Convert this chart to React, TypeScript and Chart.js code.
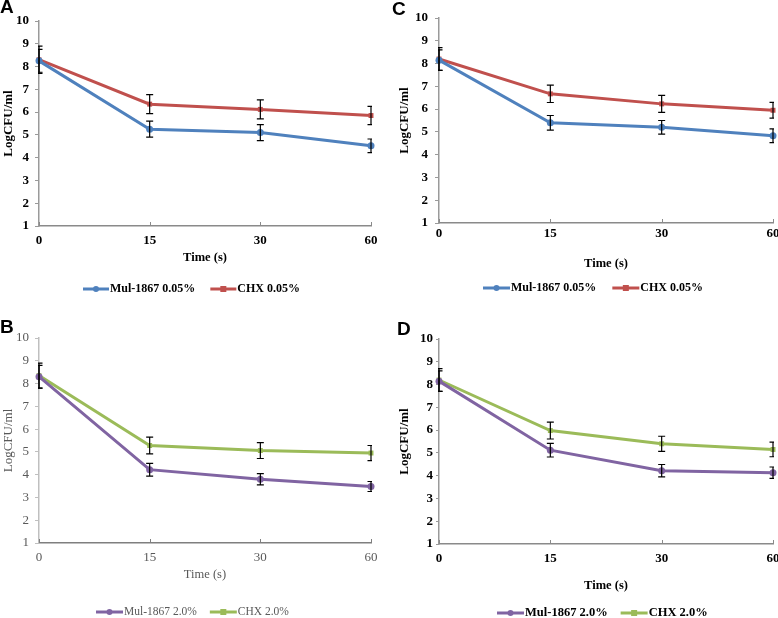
import React, { useEffect, useRef } from 'react';
import { Chart, registerables } from 'chart.js';

Chart.register(...registerables);

// ---------- data ----------
const timeLabels = ['0', '15', '30', '60'];
const yMin = 1;
const yMax = 10;

// Panel A (0.05%)
const mulA = [8.25, 5.25, 5.1, 4.52];
const mulAErr = [0.5, 0.35, 0.35, 0.3];
const chxA = [8.3, 6.35, 6.12, 5.85];
const chxAErr = [0.6, 0.42, 0.42, 0.4];

// Panel C (0.05%)
const mulC = [8.15, 5.4, 5.2, 4.83];
const mulCErr = [0.45, 0.32, 0.3, 0.3];
const chxC = [8.2, 6.67, 6.23, 5.95];
const chxCErr = [0.5, 0.38, 0.37, 0.35];

// Panel B (2.0%)
const mulB = [8.3, 4.22, 3.8, 3.48];
const mulBErr = [0.5, 0.28, 0.25, 0.22];
const chxB = [8.35, 5.28, 5.06, 4.95];
const chxBErr = [0.55, 0.37, 0.35, 0.33];

// Panel D (2.0%)
const mulD = [8.15, 5.12, 4.22, 4.13];
const mulDErr = [0.45, 0.3, 0.27, 0.25];
const chxD = [8.2, 5.98, 5.4, 5.15];
const chxDErr = [0.5, 0.37, 0.33, 0.32];

const seriesNames005 = ['Mul-1867 0.05%', 'CHX 0.05%'];
const seriesNames20 = ['Mul-1867 2.0%', 'CHX 2.0%'];
const yTitle = 'LogCFU/ml';
const xTitle = 'Time (s)';

// ---------- styles ----------
const SERIF = "'Liberation Serif', 'Times New Roman', serif";
const BLUE = '#4F81BD';
const RED = '#C0504D';
const PURPLE = '#8064A2';
const GREEN = '#9BBB59';

type PanelCfg = {
  letter: string;
  letterLeft: number;
  letterTop: number;
  left: number;
  top: number;
  W: number;
  H: number;
  area: { l: number; t: number; r: number; b: number };
  weight: 'bold' | 'normal';
  textColor: string;
  axisColor: string;
  yAxisColor: string;
  xTickPad: number;
  yTickLen: number;
  yTickPad: number;
  yTitlePad: number;
  xTitlePad: number;
  legendY: number;
  legendX: number;
  legendLine: number;
  legendGap: number;
  legendFont: number;
  names: string[];
  colors: string[];
  mul: number[];
  mulErr: number[];
  chx: number[];
  chxErr: number[];
};

const panels: PanelCfg[] = [
  {
    letter: 'A', letterLeft: 0, letterTop: -3,
    left: 0, top: 0, W: 389, H: 309,
    area: { l: 39, t: 21, r: 371, b: 226 },
    weight: 'bold', textColor: '#000', axisColor: '#8a8a8a', yAxisColor: '#9a9a9a',
    xTickPad: 7, yTickLen: 4, yTickPad: 6, yTitlePad: 1, xTitlePad: 44,
    legendY: 289, legendX: 83, legendLine: 26, legendGap: 15, legendFont: 12,
    names: seriesNames005, colors: [BLUE, RED],
    mul: mulA, mulErr: mulAErr, chx: chxA, chxErr: chxAErr,
  },
  {
    letter: 'C', letterLeft: 392, letterTop: -1,
    left: 389, top: 0, W: 389, H: 309,
    area: { l: 50, t: 18, r: 384, b: 223 },
    weight: 'bold', textColor: '#000', axisColor: '#8a8a8a', yAxisColor: '#9a9a9a',
    xTickPad: 3, yTickLen: 4, yTickPad: 7, yTitlePad: 8, xTitlePad: 38,
    legendY: 288, legendX: 94, legendLine: 27, legendGap: 16, legendFont: 12,
    names: seriesNames005, colors: [BLUE, RED],
    mul: mulC, mulErr: mulCErr, chx: chxC, chxErr: chxCErr,
  },
  {
    letter: 'B', letterLeft: 0, letterTop: 317,
    left: 0, top: 309, W: 389, H: 309,
    area: { l: 39, t: 29, r: 371, b: 234 },
    weight: 'normal', textColor: '#595959', axisColor: '#7f7f7f', yAxisColor: '#bfbfbf',
    xTickPad: 7, yTickLen: 4, yTickPad: 6, yTitlePad: 1, xTitlePad: 36,
    legendY: 303, legendX: 96, legendLine: 27, legendGap: 13, legendFont: 11.5,
    names: seriesNames20, colors: [PURPLE, GREEN],
    mul: mulB, mulErr: mulBErr, chx: chxB, chxErr: chxBErr,
  },
  {
    letter: 'D', letterLeft: 397, letterTop: 319,
    left: 389, top: 309, W: 389, H: 309,
    area: { l: 50, t: 30, r: 384, b: 235 },
    weight: 'bold', textColor: '#000', axisColor: '#8a8a8a', yAxisColor: '#9a9a9a',
    xTickPad: 7, yTickLen: 3, yTickPad: 3, yTitlePad: 8, xTitlePad: 25,
    legendY: 304, legendX: 108, legendLine: 27, legendGap: 13, legendFont: 12.5,
    names: seriesNames20, colors: [PURPLE, GREEN],
    mul: mulD, mulErr: mulDErr, chx: chxD, chxErr: chxDErr,
  },
];

function makeErrorBarPlugin(errors: number[][]) {
  return {
    id: 'errBars',
    afterDatasetsDraw(chart: any) {
      const { ctx, chartArea } = chart;
      const ys = chart.scales.y;
      ctx.save();
      ctx.beginPath();
      ctx.rect(chartArea.left - 1, chartArea.top - 30, chartArea.right - chartArea.left + 2, chartArea.bottom - chartArea.top + 60);
      ctx.clip();
      ctx.strokeStyle = '#000';
      ctx.lineWidth = 1.2;
      chart.data.datasets.forEach((ds: any, di: number) => {
        const meta = chart.getDatasetMeta(di);
        meta.data.forEach((pt: any, i: number) => {
          const v = ds.data[i];
          const e = errors[di][i];
          const x = pt.x;
          const y1 = ys.getPixelForValue(v + e);
          const y2 = ys.getPixelForValue(v - e);
          ctx.beginPath();
          ctx.moveTo(x, y1);
          ctx.lineTo(x, y2);
          ctx.moveTo(x - 3.5, y1);
          ctx.lineTo(x + 3.5, y1);
          ctx.moveTo(x - 3.5, y2);
          ctx.lineTo(x + 3.5, y2);
          ctx.stroke();
        });
      });
      ctx.restore();
    },
  };
}

function makeDecorPlugin(cfg: PanelCfg) {
  return {
    id: 'decor',
    afterDraw(chart: any) {
      const { ctx, chartArea } = chart;
      const xs = chart.scales.x;
      // inward x tick marks
      ctx.save();
      ctx.strokeStyle = cfg.axisColor;
      ctx.lineWidth = 1;
      xs.ticks.forEach((_t: any, i: number) => {
        const px = Math.round(xs.getPixelForTick(i)) + 0.5;
        ctx.beginPath();
        ctx.moveTo(px, chartArea.bottom);
        ctx.lineTo(px, chartArea.bottom - 4);
        ctx.stroke();
      });
      ctx.restore();

      // legend
      ctx.save();
      ctx.font = `${cfg.weight} ${cfg.legendFont}px ${SERIF}`;
      ctx.textBaseline = 'middle';
      ctx.textAlign = 'left';
      let x = cfg.legendX;
      const y = cfg.legendY;
      cfg.names.forEach((name, i) => {
        const col = cfg.colors[i];
        ctx.strokeStyle = col;
        ctx.lineWidth = 3;
        ctx.beginPath();
        ctx.moveTo(x, y);
        ctx.lineTo(x + cfg.legendLine, y);
        ctx.stroke();
        ctx.fillStyle = col;
        const cx = x + cfg.legendLine / 2;
        if (i === 0) {
          ctx.beginPath();
          ctx.arc(cx, y, 3, 0, Math.PI * 2);
          ctx.fill();
        } else {
          ctx.fillRect(cx - 3, y - 3, 6, 6);
        }
        ctx.fillStyle = cfg.textColor;
        const tx = x + cfg.legendLine + 1;
        ctx.fillText(name, tx, y);
        x = tx + ctx.measureText(name).width + cfg.legendGap;
      });
      ctx.restore();
    },
  };
}

function Panel({ cfg }: { cfg: PanelCfg }) {
  const ref = useRef<HTMLCanvasElement>(null);
  useEffect(() => {
    if (!ref.current) return;
    const { area, W, H } = cfg;
    const tickFont = { family: SERIF, size: 13, weight: cfg.weight };
    const chart = new Chart(ref.current, {
      type: 'line',
      data: {
        labels: timeLabels,
        datasets: [
          {
            label: cfg.names[0],
            data: cfg.mul,
            borderColor: cfg.colors[0],
            backgroundColor: cfg.colors[0],
            borderWidth: 3,
            pointStyle: 'circle',
            pointRadius: 3.5,
            pointBorderWidth: 0,
            tension: 0,
            clip: false as any,
          },
          {
            label: cfg.names[1],
            data: cfg.chx,
            borderColor: cfg.colors[1],
            backgroundColor: cfg.colors[1],
            borderWidth: 3,
            pointStyle: 'rect',
            pointRadius: 3.5,
            pointBorderWidth: 0,
            tension: 0,
            clip: false as any,
          },
        ],
      },
      options: {
        animation: false,
        responsive: false,
        events: [],
        layout: { padding: { left: 0, top: area.t, right: W - area.r, bottom: 0 } },
        plugins: {
          legend: { display: false },
          tooltip: { enabled: false },
          title: { display: false },
        },
        scales: {
          x: {
            type: 'category',
            offset: false,
            grid: { display: true, drawOnChartArea: false, drawTicks: false },
            border: { display: true, color: cfg.axisColor, width: 1.5 },
            ticks: { font: tickFont, color: cfg.textColor, padding: cfg.xTickPad, maxRotation: 0, autoSkip: false },
            title: {
              display: true,
              text: xTitle,
              font: { family: SERIF, size: 12.5, weight: cfg.weight },
              color: cfg.textColor,
              padding: { top: 0, bottom: cfg.xTitlePad },
            },
            afterFit: (s: any) => {
              s.height = H - area.b;
              s.paddingLeft = 0;
              s.paddingRight = 0;
            },
          },
          y: {
            type: 'linear',
            min: yMin,
            max: yMax,
            grid: {
              display: true,
              drawOnChartArea: false,
              drawTicks: true,
              tickLength: cfg.yTickLen,
              color: cfg.yAxisColor,
            },
            border: { display: true, color: cfg.yAxisColor, width: 1.5 },
            ticks: { stepSize: 1, font: tickFont, color: cfg.textColor, padding: cfg.yTickPad },
            title: {
              display: true,
              text: yTitle,
              font: { family: SERIF, size: 13, weight: cfg.weight },
              color: cfg.textColor,
              padding: { top: cfg.yTitlePad, bottom: 0 },
            },
            afterFit: (s: any) => {
              s.width = area.l;
              s.paddingTop = 0;
              s.paddingBottom = 0;
            },
          },
        },
      },
      plugins: [makeErrorBarPlugin([cfg.mulErr, cfg.chxErr]), makeDecorPlugin(cfg)],
    } as any);
    return () => chart.destroy();
  }, [cfg]);
  return (
    <canvas
      ref={ref}
      width={cfg.W}
      height={cfg.H}
      style={{ position: 'absolute', left: cfg.left, top: cfg.top, width: cfg.W, height: cfg.H }}
    />
  );
}

export default function App() {
  return (
    <div style={{ position: 'fixed', left: 0, top: 0, width: 778, height: 618, background: '#fff', overflow: 'hidden' }}>
      {panels.map((p) => (
        <Panel key={p.letter} cfg={p} />
      ))}
      {panels.map((p) => (
        <div
          key={'l' + p.letter}
          style={{
            position: 'absolute',
            left: p.letterLeft,
            top: p.letterTop,
            fontFamily: "'Liberation Sans', Arial, sans-serif",
            fontWeight: 'bold',
            fontSize: 19,
            lineHeight: '19px',
            color: '#000',
          }}
        >
          {p.letter}
        </div>
      ))}
    </div>
  );
}
